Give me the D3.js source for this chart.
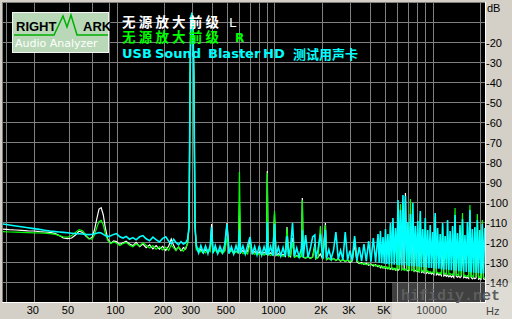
<!DOCTYPE html>
<html>
<head>
<meta charset="utf-8">
<title>RMAA spectrum</title>
<script src="https://d3js.org/d3.v7.min.js"></script>
<style>
  body { margin: 0; background: #d4d0c8; }
  svg { display: block; }
</style>
</head>
<body>
<div id="chart"></div>
<script>
// frequency points (Hz), shared by the three traces
var hz = [
  19,21,23,25,27.5,30,32.5,35,38,41,
  43.5,46,49,52,55,58,61,64,67,70,
  72.5,75,77.5,80,82.5,85,88,92,96,100,
  105,110,115,121,127,133,140,147,154,162,
  170,178,187,196,205,214,222,230,238,247,
  256,265,274,282,288,292,295,297.5,300,302.5,
  305,309,314,320,331,342,354,366,379,392,
  400,408,422,437,452,468,484,500,516,534,
  552,571,590,600,610,631,653,676,700,724,
  749,775,802,830,859,889,900,912,944,977,
  1000,1022,1058,1095,1133,1172,1200,1228,1264,1300,
  1337,1383,1431,1480,1500,1521,1574,1629,1685,1743,
  1800,1824,1887,1952,2020,2100,2134,2208,2285,2364,
  2446,2531,2619,2710,2804,2901,3002,3106,3214,3325,
  3440,3559,3682,3810,3942,4079,4220,4366,4520,4600,
  4680,4770,4860,4950,5040,5130,5220,5320,5420,5520,
  5620,5720,5830,5940,6050,6160,6270,6380,6500,6620,
  6740,6860,6990,7120,7250,7380,7510,7650,7790,7930,
  8070,8220,8370,8520,8680,8840,9000,9160,9330,9500,
  9670,9850,10030,10210,10400,10590,10780,10980,11180,11380,
  11590,11800,12020,12240,12460,12690,12920,13160,13400,13640,
  13890,14140,14400,14660,14930,15200,15480,15760,16050,16340,
  16640,16940,17250,17560,17880,18210,18540,18880,19220,19570,
  19930,20290,20660,21040,21420
];

// 无源放大前级 L (white)
var leftDb = [
  -113.5,-113.8,-114.0,-114.2,-114.4,-114.5,-114.8,-115.0,-115.2,-115.8,
  -116.8,-118.0,-118.3,-118.0,-116.5,-114.6,-115.2,-117.0,-118.4,-117.8,
  -114.0,-108.5,-103.5,-102.8,-106.5,-113.0,-118.5,-120.6,-119.5,-119.8,
  -121.2,-120.4,-119.6,-121.0,-121.8,-120.2,-122.3,-121.0,-122.8,-121.4,
  -123.4,-121.8,-123.6,-122.2,-124.2,-122.0,-118.5,-121.8,-124.0,-122.6,
  -124.4,-122.8,-123.5,-120.5,-112,-40,-12,-7,-6,-7,
  -12,-40,-112,-123.0,-125.2,-123.6,-125.6,-124.0,-125.0,-123.4,
  -111.0,-124.8,-123.8,-125.4,-124.2,-125.6,-124.4,-110.5,-125.0,-124.0,
  -125.8,-124.6,-125.2,-101.0,-125.4,-124.2,-125.8,-124.6,-119.0,-125.8,
  -124.8,-126.0,-125.0,-126.2,-125.2,-126.0,-84.5,-126.4,-125.4,-126.6,
  -106.0,-126.8,-125.8,-127.0,-126.2,-127.2,-112.5,-126.6,-127.4,-118.0,
  -127.6,-126.8,-127.8,-127.0,-98.0,-127.6,-128.0,-127.2,-128.2,-127.4,
  -121.0,-128.4,-127.6,-126.0,-128.6,-110.5,-128.8,-128.0,-129.0,-128.2,
  -129.2,-128.4,-129.6,-128.8,-129.8,-129.0,-130.2,-129.4,-121.0,-130.0,
  -130.8,-130.2,-131.2,-130.6,-131.6,-131.0,-132.0,-131.4,-132.4,-131.8,
  -132.8,-132.0,-133.0,-132.4,-133.2,-132.6,-133.4,-132.8,-133.6,-133.0,
  -133.8,-133.2,-134.0,-133.4,-134.2,-133.6,-118.0,-133.8,-104.0,-134.0,
  -95.5,-134.0,-134.4,-134.2,-112.0,-134.4,-110.0,-134.6,-134.2,-134.8,
  -134.4,-135.0,-116.0,-135.2,-134.8,-135.4,-122.0,-135.6,-135.0,-135.8,
  -135.2,-136.0,-135.4,-136.2,-109.0,-136.4,-135.8,-136.6,-136.0,-136.8,
  -124.0,-137.0,-136.4,-137.2,-136.6,-137.4,-136.8,-137.6,-137.0,-137.8,
  -117.0,-137.2,-137.6,-137.0,-137.8,-137.2,-120.0,-137.8,-137.4,-138.0,
  -137.6,-138.2,-110.0,-137.8,-138.4,-137.8,-138.4,-138.0,-118.0,-138.6,
  -138.2,-138.6,-125.0,-138.4,-138.8
];

// 无源放大前级 R (green)
var rightDb = [
  -114.8,-115.0,-115.1,-115.2,-115.3,-115.4,-115.5,-115.6,-115.8,-116.2,
  -116.8,-117.4,-117.6,-116.8,-115.2,-113.8,-114.4,-116.6,-118.4,-118.6,
  -116.5,-112.8,-109.8,-109.2,-111.5,-115.8,-119.2,-120.8,-120.0,-120.6,
  -121.8,-120.8,-120.2,-121.6,-122.4,-121.0,-122.0,-120.4,-121.6,-123.0,
  -121.8,-123.6,-122.4,-124.0,-122.6,-124.2,-121.4,-123.0,-124.4,-122.4,
  -123.8,-124.6,-122.8,-121.0,-112,-40,-12,-7,-6.5,-7,
  -12,-40,-112,-124.0,-123.2,-125.0,-124.2,-125.4,-123.8,-124.8,
  -117.0,-125.2,-124.0,-125.6,-124.2,-125.8,-124.6,-118.0,-125.4,-124.2,
  -125.8,-124.8,-125.6,-85.0,-124.6,-125.8,-124.8,-126.0,-121.0,-125.2,
  -126.2,-125.0,-126.4,-125.4,-126.6,-125.6,-85.5,-126.0,-126.8,-125.8,
  -104.5,-126.2,-127.0,-126.2,-127.2,-126.6,-113.0,-127.4,-126.8,-120.0,
  -127.6,-127.0,-127.8,-127.2,-99.0,-127.4,-128.0,-127.4,-128.2,-127.6,
  -122.0,-128.4,-127.8,-112.0,-128.6,-111.5,-128.8,-128.2,-129.0,-128.4,
  -129.2,-128.6,-129.4,-128.8,-129.6,-129.0,-129.8,-129.2,-118.0,-129.4,
  -130.4,-131.0,-130.6,-131.4,-130.8,-131.6,-131.2,-132.0,-131.6,-132.4,
  -132.0,-132.8,-132.2,-133.0,-132.4,-133.2,-132.6,-133.4,-112.0,-133.4,
  -133.0,-133.8,-133.2,-134.0,-117.0,-133.6,-101.0,-134.0,-133.4,-134.2,
  -133.6,-134.2,-118.0,-134.4,-98.5,-134.2,-133.8,-134.6,-120.0,-134.4,
  -134.0,-134.8,-106.0,-134.6,-134.2,-135.0,-110.0,-134.8,-134.4,-135.2,
  -134.8,-135.4,-135.0,-135.6,-107.0,-135.4,-135.2,-135.8,-135.4,-136.0,
  -112.0,-136.0,-135.6,-136.2,-116.0,-136.2,-135.8,-136.4,-136.0,-136.6,
  -103.0,-136.6,-136.2,-136.8,-114.0,-136.8,-105.5,-137.0,-136.6,-137.2,
  -136.8,-137.4,-101.5,-137.2,-137.0,-137.6,-115.0,-137.4,-106.0,-137.8,
  -137.4,-138.0,-109.0,-137.8,-138.2
];

// USB Sound Blaster HD 测试用声卡 (cyan)
var usbDb = [
  -111.0,-111.5,-112.0,-112.4,-112.9,-113.3,-113.7,-114.1,-114.5,-114.8,
  -115.0,-115.2,-115.4,-115.6,-115.8,-115.9,-116.0,-116.2,-116.3,-116.1,
  -115.9,-115.6,-115.3,-115.5,-116.2,-116.8,-117.3,-116.9,-116.2,-115.8,
  -117.4,-118.0,-117.2,-118.6,-117.8,-118.9,-117.4,-116.8,-118.4,-119.4,
  -117.6,-118.8,-120.0,-118.2,-117.4,-119.6,-120.8,-118.6,-120.2,-121.4,
  -119.8,-121.0,-120.4,-118.5,-112,-40,-12,-7,-5.5,-7,
  -12,-40,-112,-121.5,-125.5,-121.8,-125.2,-122.0,-125.8,-121.6,
  -112.5,-125.6,-121.8,-125.8,-122.2,-125.4,-121.4,-111.0,-125.8,-122.4,
  -126.0,-121.8,-125.6,-114.0,-125.4,-122.0,-126.0,-121.6,-117.5,-126.2,
  -122.2,-126.4,-121.8,-126.6,-122.4,-126.2,-110.0,-126.6,-122.2,-126.8,
  -111.0,-126.6,-122.6,-127.0,-122.8,-127.2,-117.0,-127.0,-122.6,-110.5,
  -127.2,-123.0,-127.4,-123.2,-114.0,-127.6,-116.5,-127.8,-123.4,-117.5,
  -116.5,-128.0,-123.6,-116.0,-128.2,-114.0,-128.2,-123.8,-128.4,-124.0,
  -115.0,-128.6,-124.2,-128.8,-115.0,-129.0,-124.4,-129.2,-117.0,-129.2,
  -122.6,-129.4,-121.0,-129.6,-119.5,-129.8,-118.0,-130.0,-116.0,-130.4,
  -114.5,-130.6,-117.5,-130.8,-113.5,-131.0,-116.0,-131.2,-110.5,-131.2,
  -108.0,-131.4,-113.0,-131.4,-99.0,-131.6,-104.0,-131.6,-96.5,-131.8,
  -97.0,-131.8,-110.0,-132.0,-106.0,-132.0,-100.5,-132.2,-112.0,-132.2,
  -109.5,-132.4,-104.5,-132.6,-113.5,-132.6,-108.0,-132.8,-114.0,-133.0,
  -111.5,-133.0,-115.0,-133.2,-105.5,-133.4,-113.0,-133.4,-116.0,-133.6,
  -110.5,-133.8,-117.0,-133.8,-109.0,-134.0,-114.5,-134.2,-112.0,-134.2,
  -106.5,-134.4,-115.5,-134.6,-111.5,-134.6,-108.5,-134.8,-116.5,-135.0,
  -110.0,-135.0,-104.0,-135.2,-113.5,-135.4,-112.5,-135.4,-109.0,-135.6,
  -114.0,-135.8,-111.0,-135.8,-113.0
];

var gridHz = [20,30,50,70,90,100,200,300,400,500,600,700,800,900,1000,
              2000,3000,4000,5000,6000,7000,8000,9000,10000,20000];
var xTicks = [30,50,100,200,300,500,1000,2000,3000,5000,10000];
var xTickText = ['30','50','100','200','300','500','1000','2K','3K','5K','10000'];
var gridDb = [-10,-20,-30,-40,-50,-60,-70,-80,-90,-100,-110,-120,-130,-140];
var yTicks = [-20,-30,-40,-50,-60,-70,-80,-90,-100,-110,-120,-130,-140];

var width = 512, height = 319;
var svg = d3.select('#chart').append('svg')
  .attr('width', width)
  .attr('height', height);

var x = d3.scaleLog().domain([100, 10000]).range([116.5, 432.5]);
var y = d3.scaleLinear().domain([0, -150]).range([2, 302]);

svg.append('rect').attr('x', 0).attr('y', 0).attr('width', width).attr('height', height).attr('fill', '#d4d0c8');
svg.append('rect').attr('x', 2).attr('y', 2).attr('width', 483).attr('height', 300).attr('fill', '#000');

// grid
svg.selectAll('line.vg').data(gridHz).enter().append('line')
  .attr('class', 'vg')
  .attr('x1', function(d) { return Math.round(x(d)) + 0.5; })
  .attr('x2', function(d) { return Math.round(x(d)) + 0.5; })
  .attr('y1', 2).attr('y2', 302)
  .attr('stroke', '#808080').attr('shape-rendering', 'crispEdges');
svg.selectAll('line.hg').data(gridDb).enter().append('line')
  .attr('class', 'hg')
  .attr('x1', 2).attr('x2', 485)
  .attr('y1', function(d) { return y(d) + 0.5; })
  .attr('y2', function(d) { return y(d) + 0.5; })
  .attr('stroke', '#808080').attr('shape-rendering', 'crispEdges');

// frame
svg.append('path').attr('d', 'M2.5,302V2.5H485').attr('fill', 'none').attr('stroke', '#808080').attr('shape-rendering', 'crispEdges');
svg.append('path').attr('d', 'M485.5,2V302.5H2').attr('fill', 'none').attr('stroke', '#ffffff').attr('shape-rendering', 'crispEdges');

svg.append('clipPath').attr('id', 'plotclip').append('rect')
  .attr('x', 3).attr('y', 3).attr('width', 482).attr('height', 299);

var line = d3.line()
  .x(function(d) { return x(d[0]); })
  .y(function(d) { return y(d[1]); });

var traces = [
  { values: leftDb, color: '#ffffff', w: 1.2 },
  { values: rightDb, color: '#00ff00', w: 1.2 },
  { values: usbDb, color: '#00ffff', w: 1.6 }
];

svg.append('g').attr('clip-path', 'url(#plotclip)')
  .selectAll('path').data(traces).enter().append('path')
  .attr('d', function(t) { return line(d3.zip(hz, t.values)); })
  .attr('fill', 'none')
  .attr('stroke', function(t) { return t.color; })
  .attr('stroke-width', function(t) { return t.w; })
  .attr('stroke-linejoin', 'miter');

// axes text
var axisFont = '"Liberation Sans", Arial, sans-serif';
svg.selectAll('text.yt').data(yTicks).enter().append('text')
  .attr('class', 'yt')
  .attr('x', 486).attr('y', function(d) { return y(d) + 4.5; })
  .attr('font-family', axisFont).attr('font-size', 11)
  .attr('fill', '#000')
  .text(function(d) { return d; });
svg.append('text').attr('x', 487).attr('y', 12)
  .attr('font-family', axisFont).attr('font-size', 11).text('dB');

svg.selectAll('text.xt').data(xTicks).enter().append('text')
  .attr('class', 'xt')
  .attr('x', function(d) { return x(d) - 1; }).attr('y', 313.5)
  .attr('text-anchor', 'middle')
  .attr('font-family', axisFont).attr('font-size', 11)
  .text(function(d, i) { return xTickText[i]; });
svg.append('text').attr('x', 486).attr('y', 315)
  .attr('font-family', axisFont).attr('font-size', 11).text('Hz');

// logo
var logo = svg.append('g');
logo.append('rect').attr('x', 12.5).attr('y', 12.5).attr('width', 96).attr('height', 40)
  .attr('fill', '#b8d8b8').attr('stroke', '#f4f4f4');
logo.append('text').attr('x', 16).attr('y', 31)
  .attr('font-family', axisFont).attr('font-weight', 'bold').attr('font-size', 13)
  .text('RIGHT');
logo.append('text').attr('x', 83).attr('y', 31)
  .attr('font-family', axisFont).attr('font-weight', 'bold').attr('font-size', 13)
  .text('ARK');
logo.append('path').attr('d', 'M14,35H54L63,16L67,27L71,15L77,35H108')
  .attr('fill', 'none').attr('stroke', '#00b000').attr('stroke-width', 1.5);
logo.append('text').attr('x', 15).attr('y', 47)
  .attr('font-family', '"DejaVu Sans", sans-serif').attr('font-size', 11)
  .attr('fill', '#ffffff').text('Audio Analyzer');

// legend
var cjk = '"Noto Sans CJK SC", sans-serif';
var latin = '"DejaVu Sans", sans-serif';
svg.append('text').attr('x', 122).attr('y', 26.5)
  .attr('font-family', cjk).attr('font-weight', 'bold').attr('font-size', 13.5)
  .attr('letter-spacing', 3.2).attr('fill', '#ffffff').text('无源放大前级');
svg.append('text').attr('x', 229).attr('y', 27)
  .attr('font-family', latin).attr('font-size', 13).attr('fill', '#ffffff').text('L');
svg.append('text').attr('x', 122).attr('y', 41.5)
  .attr('font-family', cjk).attr('font-weight', 'bold').attr('font-size', 13.5)
  .attr('letter-spacing', 3.2).attr('fill', '#00ff00').text('无源放大前级');
svg.append('text').attr('x', 235).attr('y', 41.7)
  .attr('font-family', latin).attr('font-weight', 'bold').attr('font-size', 12).attr('fill', '#00ff00').text('R');

var usbWords = [['USB', 122], ['Sound', 155], ['Blaster', 208], ['HD', 263]];
svg.selectAll('text.usb').data(usbWords).enter().append('text')
  .attr('class', 'usb')
  .attr('x', function(d) { return d[1]; }).attr('y', 58)
  .attr('font-family', latin).attr('font-weight', 'bold').attr('font-size', 13)
  .attr('fill', '#00ffff').text(function(d) { return d[0]; });
svg.append('text').attr('x', 293).attr('y', 58.5)
  .attr('font-family', cjk).attr('font-weight', 'bold').attr('font-size', 13)
  .attr('fill', '#00ffff').text('测试用声卡');

// watermark
svg.append('rect').attr('x', 392).attr('y', 283).attr('width', 120).attr('height', 36)
  .attr('fill', '#ffffff').attr('fill-opacity', 0.25);
svg.append('text').attr('x', 401).attr('y', 299.5)
  .attr('font-family', '"Liberation Mono", monospace').attr('font-weight', 'bold').attr('font-size', 15)
  .attr('fill', '#5e5e5e').text('hifidiy.net');
</script>
</body>
</html>
